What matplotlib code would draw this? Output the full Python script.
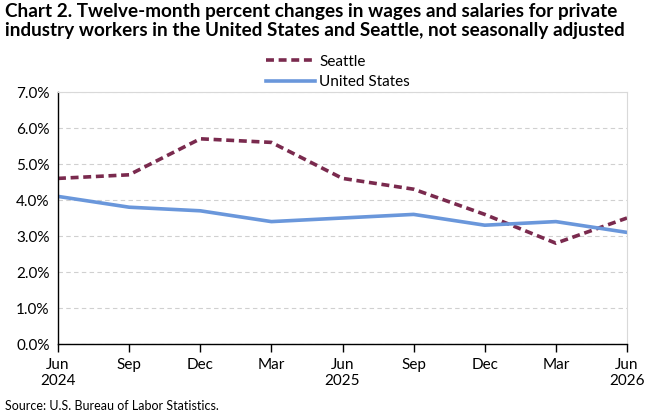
import matplotlib
matplotlib.use("Agg")
import matplotlib.pyplot as plt
from matplotlib.ticker import FuncFormatter

plt.rcParams['font.family'] = ['Lato', 'DejaVu Sans']

quarters = ['Jun\n2024', 'Sep', 'Dec', 'Mar', 'Jun\n2025', 'Sep', 'Dec', 'Mar', 'Jun\n2026']
seattle = [4.6, 4.7, 5.7, 5.6, 4.6, 4.3, 3.6, 2.8, 3.5]
united_states = [4.1, 3.8, 3.7, 3.4, 3.5, 3.6, 3.3, 3.4, 3.1]

fig = plt.figure(figsize=(6.67, 4.13), dpi=100)
ax = fig.add_axes([58 / 667, 1 - 344 / 413, (627 - 58) / 667, (344 - 92) / 413])

x = list(range(len(quarters)))
ax.plot(x, seattle, color='#7A2A4E', lw=2.6, ls=(0, (2.2, 1.3)), label='Seattle')
ax.plot(x, united_states, color='#6A97DB', lw=2.6, label='United States')

ax.set_xlim(0, len(quarters) - 1)
ax.set_ylim(0, 7)
ax.set_yticks([i for i in range(8)])
ax.yaxis.set_major_formatter(FuncFormatter(lambda v, p: f'{v:.1f}%'))
ax.set_xticks(x)
ax.set_xticklabels(quarters)
ax.tick_params(axis='y', length=0, labelsize=11, pad=6)
ax.tick_params(axis='x', length=6, width=1, labelsize=11, pad=4, direction='out')
ax.grid(axis='y', color='#D0D0D0', ls=(0, (4, 3)), lw=0.8)
ax.set_axisbelow(True)
for s in ['top', 'right']:
    ax.spines[s].set_color('#D9D9D9')
    ax.spines[s].set_linewidth(0.8)
for s in ['left', 'bottom']:
    ax.spines[s].set_color('black')
    ax.spines[s].set_linewidth(1)

fig.text(5 / 667, 1 - 3 / 413,
         'Chart 2. Twelve-month percent changes in wages and salaries for private\n'
         'industry workers in the United States and Seattle, not seasonally adjusted',
         fontsize=13.6, fontweight='bold', ha='left', va='top', linespacing=1.15)

fig.legend(loc='center', bbox_to_anchor=(338 / 667, 1 - 72 / 413), frameon=False,
           fontsize=11, handlelength=3.2, handletextpad=0.3, labelspacing=0.45,
           borderpad=0)

fig.text(5 / 667, 1 - 406 / 413, 'Source: U.S. Bureau of Labor Statistics.',
         fontsize=9, ha='left', va='center')

fig.savefig('out.png', dpi=100)
